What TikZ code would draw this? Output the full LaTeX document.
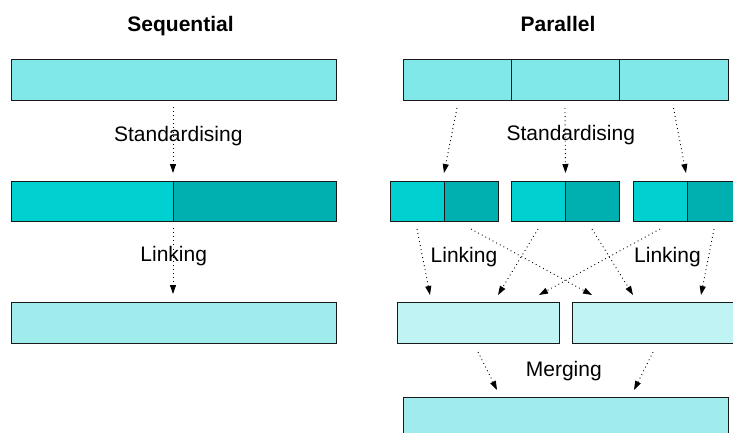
\documentclass[tikz,border=0pt]{standalone}
\usepackage{fontspec}
\setmainfont{Liberation Sans}
\usetikzlibrary{arrows.meta}
\definecolor{cTop}{HTML}{80E8E8}
\definecolor{cMidA}{HTML}{00D0D0}
\definecolor{cMidB}{HTML}{00B0B0}
\definecolor{cBot}{HTML}{A0ECEC}
\definecolor{cLink}{HTML}{C0F4F4}
\definecolor{cEdge}{HTML}{1A1A1A}
\tikzset{
  box/.style={draw=cEdge, line width=0.9pt, rectangle, inner sep=0pt, outer sep=0pt},
  conn/.style={draw=black, line width=0.9pt, dash pattern=on 0.9pt off 3.2pt,
    -{Triangle[length=9pt,width=6pt]}},
  lbl/.style={font=\fontsize{21}{25}\selectfont, anchor=base, inner sep=0pt},
  ttl/.style={font=\fontsize{21}{25}\selectfont\bfseries, anchor=base, inner sep=0pt},
}
\newcommand{\bx}[7]{% name, x1, y1, x2, y2, colour
  \node[box, fill=#6, minimum width={(#4-#2)*1pt}, minimum height={(#5-#3)*1pt}, anchor=north west] (#1) at (#2,#3) {};}
\begin{document}
\begin{tikzpicture}[x=1pt,y=-1pt]
\useasboundingbox (0,0) rectangle (733,433);
\clip (0,0) rectangle (733,433);
% Sequential
\node[ttl] (tseq) at (180.5,31.5) {Sequential};
\bx{s1}{11}{59}{336}{100}{cTop}{}
\bx{s2a}{11}{181}{173}{221}{cMidA}{}
\bx{s2b}{173}{181}{336}{221}{cMidB}{}
\bx{s3}{11}{302}{336}{343}{cBot}{}
\draw[conn] ([yshift=-7pt]s1.south -| s2a.east) -- ([yshift=8pt]s2a.north east);
\draw[conn] ([yshift=-7pt]s2a.south east) -- ([yshift=8pt]s2a.south east |- s3.north);
\node[lbl] (lseq1) at (178.3,141.5) {Standardising};
\node[lbl] (lseq2) at (173.7,261.7) {Linking};
% Parallel
\node[ttl] (tpar) at (558,31.5) {Parallel};
\bx{p1a}{403}{59}{511}{100}{cTop}{}
\bx{p1b}{511}{59}{619}{100}{cTop}{}
\bx{p1c}{619}{59}{728}{100}{cTop}{}
\bx{a1}{390}{181}{444}{221}{cMidA}{}
\bx{a2}{444}{181}{498}{221}{cMidB}{}
\bx{b1}{511}{181}{565}{221}{cMidA}{}
\bx{b2}{565}{181}{619}{221}{cMidB}{}
\bx{c1}{633}{181}{687}{221}{cMidA}{}
\bx{c2}{687}{181}{741}{221}{cMidB}{}
\bx{d}{397}{302}{559}{343}{cLink}{}
\bx{e}{572}{302}{734}{343}{cLink}{}
\bx{f}{403}{397}{728}{440}{cBot}{}
\draw[conn] ([yshift=-8pt]p1a.south) -- ([yshift=8pt]a1.north east);
\draw[conn] ([yshift=-8pt]p1b.south) -- ([xshift=0.5pt,yshift=8pt]b1.north east);
\draw[conn] ([yshift=-8pt]p1c.south) -- ([xshift=-1pt,yshift=8pt]c1.north east);
\node[lbl] (lpar1) at (570.8,140.7) {Standardising};
% linking
\draw[conn] ([yshift=-8pt]a1.south) -- ([xshift=33pt,yshift=7pt]d.north west);
\draw[conn] ([yshift=-8pt]b1.south) -- ([xshift=101pt,yshift=7pt]d.north west);
\draw[conn] ([yshift=-8pt]c1.south) -- ([xshift=142pt,yshift=7pt]d.north west);
\draw[conn] ([yshift=-8pt]a2.south) -- ([xshift=20pt,yshift=7pt]e.north west);
\draw[conn] ([yshift=-8pt]b2.south) -- ([xshift=61pt,yshift=7pt]e.north west);
\draw[conn] ([xshift=27pt,yshift=-8pt]c2.south west) -- ([xshift=129pt,yshift=7pt]e.north west);
\node[lbl] (lpar2) at (464,262.7) {Linking};
\node[lbl] (lpar3) at (667.5,262.7) {Linking};
% merging
\draw[conn] ([yshift=-9pt]d.south) -- ([xshift=94pt,yshift=7pt]f.north west);
\draw[conn] ([xshift=81pt,yshift=-9pt]e.south west) -- ([xshift=231pt,yshift=7pt]f.north west);
\node[lbl] (lpar4) at (563.8,376.7) {Merging};
\end{tikzpicture}
\end{document}
